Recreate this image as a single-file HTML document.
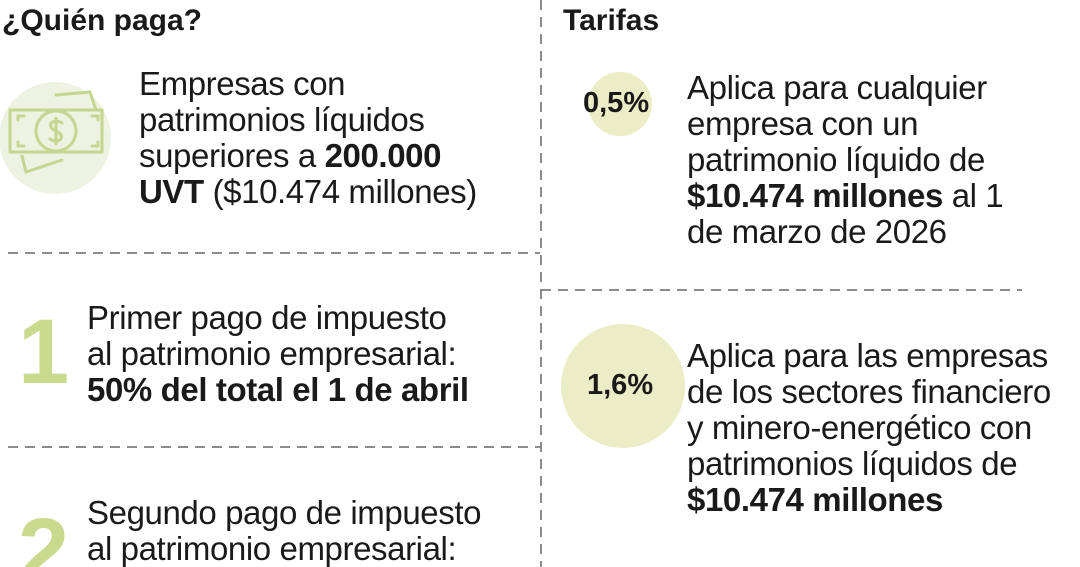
<!DOCTYPE html>
<html><head><meta charset="utf-8">
<style>
html,body{margin:0;padding:0;background:#fff;width:1080px;height:567px;overflow:hidden;}
body{font-family:"Liberation Sans",sans-serif;color:#1a1a1a;}
#wrap{position:relative;width:1080px;height:567px;overflow:hidden;}
.abs{position:absolute;}
.h{font-weight:bold;font-size:30px;}
.t{font-size:33px;line-height:36px;letter-spacing:-0.4px;white-space:nowrap;}
.big{font-size:92px;font-weight:bold;color:#c9da8f;line-height:92px;}
.circ{border-radius:50%;background:#eaedc6;}
.pct{font-weight:bold;font-size:29px;}
</style></head><body>
<div id="wrap">
<svg class="abs" style="left:0;top:0" width="1080" height="567">
<g stroke="#666" stroke-width="1.5" stroke-dasharray="10,7" fill="none">
<line x1="541" y1="0" x2="541" y2="567"/>
<line x1="8" y1="253" x2="540" y2="253"/>
<line x1="8" y1="447" x2="540" y2="447"/>
<line x1="541" y1="290" x2="1022" y2="290"/>
</g></svg>

<div class="abs h" style="left:2px;top:4px">¿Quién paga?</div>
<div class="abs h" style="left:563px;top:4px">Tarifas</div>

<svg class="abs" style="left:0;top:82px" width="115" height="115">
<circle cx="55" cy="56" r="56" fill="#eef2e2"/>
<g stroke="#c4d690" stroke-width="3" fill="none" stroke-linecap="round">
<rect x="10" y="28" width="92" height="42"/>
<path d="M18,38 V34 H24 M92,34 H98 V38 M18,60 V64 H24 M92,64 H98 V60"/>
<circle cx="56" cy="49" r="20"/>
<path d="M62,41 Q56,37 51,41 Q49,46 56,49 Q63,52 61,57 Q56,61 50,57 M56,36 V62"/>
<polyline points="56,13 90,10 96,28"/>
<polyline points="22,74 26,90 62,78"/>
</g></svg>

<div class="abs t" style="left:139px;top:66px">Empresas con<br>patrimonios líquidos<br>superiores a <b>200.000</b><br><b>UVT</b> ($10.474 millones)</div>

<div class="abs big" style="left:18px;top:306px">1</div>
<div class="abs t" style="left:87px;top:300px">Primer pago de impuesto<br>al patrimonio empresarial:<br><b>50% del total el 1 de abril</b></div>

<div class="abs big" style="left:18px;top:505px;height:62px;overflow:hidden">2</div>
<div class="abs t" style="left:87px;top:495px;height:72px;overflow:hidden">Segundo pago de impuesto<br>al patrimonio empresarial:</div>

<div class="abs circ" style="left:588px;top:72px;width:64px;height:64px"></div>
<div class="abs pct" style="left:583px;top:87px">0,5%</div>
<div class="abs t" style="left:687px;top:70px">Aplica para cualquier<br>empresa con un<br>patrimonio líquido de<br><b>$10.474 millones</b> al 1<br>de marzo de 2026</div>

<div class="abs circ" style="left:561px;top:324px;width:124px;height:124px"></div>
<div class="abs pct" style="left:587px;top:369px">1,6%</div>
<div class="abs t" style="left:687px;top:338px">Aplica para las empresas<br>de los sectores financiero<br>y minero-energético con<br>patrimonios líquidos de<br><b>$10.474 millones</b></div>
</div>
</body></html>
